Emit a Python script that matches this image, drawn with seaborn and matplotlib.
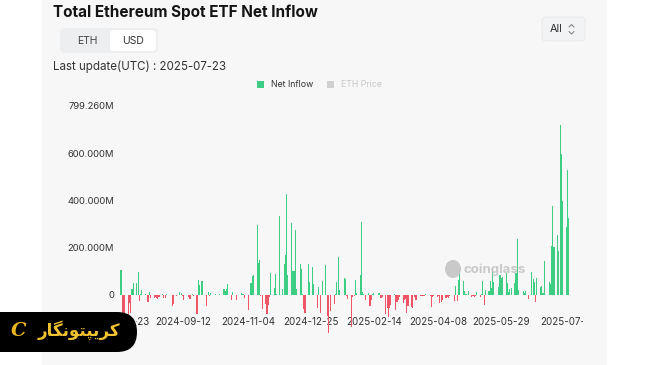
import numpy as np
import pandas as pd
import matplotlib
matplotlib.use("Agg")
import matplotlib.pyplot as plt
import seaborn as sns
from matplotlib.patches import FancyBboxPatch, Rectangle, Ellipse
from matplotlib.transforms import Bbox, TransformedBbox

# ---------------- data ----------------
START = "2024-07-23"
END = "2025-07-23"
HOLIDAYS = ["2024-09-02", "2024-11-28", "2024-12-25", "2025-01-01", "2025-01-09",
            "2025-01-20", "2025-02-17", "2025-04-18", "2025-05-26", "2025-06-19",
            "2025-07-04"]

# daily net inflow, million USD, one value per US trading day
jul24 = [106.6, -113.3, -152.3, -162.7, -98.3, -33.7, -77.2]
aug24 = [26.7, 48.8, 48.7, 98.4, -23.7, 2.7, 20.1, 4.9, -0.6, -28.2, 10.8, -14.0,
         -13.5, -6.5, -12.0, -16.0, -10.0, 2.8, -14.0, -12.0, 5.8, -1.8]
sep24 = [-47.4, -37.5, -0.2, -6.2, 11.4, 8.0, -5.0, -20.1, 1.5, -9.8, -15.1, -15.1,
         5.2, -5.0, -79.3, 62.5, 43.2, 0.0, 58.7, 0.5]
oct24 = [-48.6, 14.5, -3.2, 7.4, 0.0, 3.0, -0.5, -1.0, 2.3, -2.0, 24.2, 18.0, 25.0,
         48.0, -21.0, 11.9, -1.1, -2.0, -19.2, 0.0, 7.7, 4.4, 3.0]
nov24 = [-10.9, -63.2, -0.5, 52.3, 79.7, 85.9, 295.5, 135.9, 146.9, -3.2, -59.8,
         -39.1, -81.3, -42.0, -8.0, 91.3, 30.0, 90.1, 5.0, 332.9]
dec24 = [24.2, 132.6, 167.7, 428.4, 83.8, 305.7, 102.5, 102.1, 273.7, 23.7, 130.0,
         110.0, 2.4, -60.5, -75.1, 130.8, 53.6, 117.2, 47.8, -55.4, 35.9]
jan25 = [-77.0, 58.9, 128.7, -86.8, -159.3, -68.0, -39.4, 3.0, 55.0, 160.0, 20.0,
         70.0, 68.0, -5.0, -18.0, -136.2, -10.0, -5.0, 63.0, 10.0]
feb25 = [83.5, 307.8, 12.0, 5.0, -21.5, 7.0, -47.0, -22.0, 5.0, 8.0, 10.0, 8.0,
         -12.0, -8.9, -80.0, -56.0, -94.3, -56.0, -42.0]
mar25 = [4.0, -63.0, -28.0, -21.0, -10.0, -35.0, -21.0, -15.0, -75.0, -47.0, -50.0,
         -56.0, -10.0, -21.0, -21.0, -4.0, -3.0, -3.0, -5.0, 3.0, 2.0]
apr25 = [-5.0, -50.0, -10.0, -3.0, -8.0, -4.0, -35.0, -28.0, -21.0, -14.0, -10.0,
         -12.0, -3.0, -25.4, 38.8, -23.8, 63.5, 104.1, 61.0, 18.0, 6.0]
may25 = [3.0, 17.0, -8.0, -6.0, -8.0, -5.0, 13.0, -10.0, 5.0, 61.0, -42.0, 21.0,
         17.0, 61.0, 31.0, 109.0, 55.0, 35.0, 85.0, 70.0, 78.0]
jun25 = [92.0, 49.0, 14.0, 24.0, 30.0, 49.0, 94.0, 235.0, 21.0, -2.0, 18.0, 10.0,
         17.0, -15.0, 96.0, 66.0, 56.0, -28.0, 73.0, 35.0]
jul25 = [38.0, 10.0, 144.0, 56.0, 46.0, 207.0, 378.0, 202.0, 254.0, 188.0, 720.0,
         596.0, 399.0, 289.0, 529.0, 324.0]

TICK_DATES = ["2024-07-23", "2024-09-12", "2024-11-04", "2024-12-25",
              "2025-02-14", "2025-04-08", "2025-05-29", "2025-07-23"]
Y_TICKS = [0, 200, 400, 600, 799.26]
Y_LABELS = ["0", "200.000M", "400.000M", "600.000M", "799.260M"]

values = np.concatenate([jul24, aug24, sep24, oct24, nov24, dec24, jan25, feb25,
                         mar25, apr25, may25, jun25, jul25])
dates = pd.bdate_range(START, END, freq="C", holidays=HOLIDAYS)
assert len(dates) == len(values), (len(dates), len(values))
df = pd.DataFrame({"date": dates, "value": values})
df["day"] = (df["date"] - pd.Timestamp(START)).dt.days
df["sign"] = np.where(df["value"] >= 0, "in", "out")

GREEN = "#3dce84"
RED = "#ee5566"

# ---------------- figure ----------------
sns.set_theme(style="white")
plt.rcParams["font.family"] = ["Inter", "DejaVu Sans"]

W, H = 650, 365
fig = plt.figure(figsize=(6.5, 3.65), dpi=100)
fig.patch.set_facecolor("white")
fig.add_artist(Rectangle((42 / W, 0), (607 - 42) / W, 1, transform=fig.transFigure,
                         facecolor="#f7f7f7", edgecolor="none", zorder=-5))

# main axes: day 0 at x=121px, 0 at y=295px, 799.26 at y=106px
px_per_day = 1.2266
left_px = 121 - 3 * px_per_day
right_px = 121 + 368 * px_per_day
mpp = 799.26 / (295 - 106)
bottom_px = 340
ax = fig.add_axes([left_px / W, (H - bottom_px) / H, (right_px - left_px) / W,
                   (bottom_px - 106) / H], zorder=1)
ax.patch.set_alpha(0)

sns.barplot(data=df, x="day", y="value", hue="sign", palette={"in": GREEN, "out": RED},
            native_scale=True, dodge=False, width=0.9, errorbar=None, legend=False,
            saturation=1, linewidth=0, ax=ax)

ax.set_xlim(-3, 368)
ax.set_ylim(-(bottom_px - 295) * mpp, 799.26)
for s in ax.spines.values():
    s.set_visible(False)
ax.set_xlabel("")
ax.set_ylabel("")
ax.set_yticks(Y_TICKS, Y_LABELS)
tick_days = [(pd.Timestamp(d) - pd.Timestamp(START)).days for d in TICK_DATES]
ax.set_xticks(tick_days, TICK_DATES)
ax.tick_params(axis="y", length=0, pad=2.4, labelsize=6.8, labelcolor="#333333")
ax.tick_params(axis="x", length=0, pad=-16.5, labelsize=7, labelcolor="#333333")
ax.grid(False)
clip = TransformedBbox(Bbox([[136 / W, 0], [583 / W, 1]]), fig.transFigure)
for lbl in ax.get_xticklabels():
    lbl.set_clip_on(True)
    lbl.set_clip_box(clip)

# overlay in pixel coordinates
ov = fig.add_axes([0, 0, 1, 1], zorder=3)
ov.set_xlim(0, W)
ov.set_ylim(H, 0)
ov.axis("off")
ov.patch.set_alpha(0)

ov.text(53, 12, "Total Ethereum Spot ETF Net Inflow", fontsize=11, fontweight="bold",
        ha="left", va="center", color="#141414")

ov.add_patch(FancyBboxPatch((60, 28), 98, 25, boxstyle="round,pad=0,rounding_size=5",
                            facecolor="#eceef0", edgecolor="none"))
ov.add_patch(FancyBboxPatch((110, 30), 46, 21, boxstyle="round,pad=0,rounding_size=4",
                            facecolor="white", edgecolor="none"))
ov.text(87, 41, "ETH", fontsize=7.5, ha="center", va="center", color="#444444")
ov.text(133, 41, "USD", fontsize=7.5, ha="center", va="center", color="#333333")

ov.text(53, 67, "Last update(UTC) : 2025-07-23", fontsize=8.3, ha="left", va="center",
        color="#333333")

ov.add_patch(Rectangle((257, 81), 7, 7, facecolor=GREEN, edgecolor="none"))
ov.text(271, 84.5, "Net Inflow", fontsize=6.3, ha="left", va="center", color="#333333")
ov.add_patch(Rectangle((327, 81), 7, 7, facecolor="#d0d0d0", edgecolor="none"))
ov.text(341, 84.5, "ETH Price", fontsize=6.3, ha="left", va="center", color="#c8c8c8")

ov.add_patch(FancyBboxPatch((542, 17), 43, 24, boxstyle="round,pad=0,rounding_size=4",
                            facecolor="#f2f3f5", edgecolor="#e4e4e4", linewidth=0.5))
ov.text(550, 29.5, "All", fontsize=7.8, ha="left", va="center", color="#333333")
ov.plot([569, 571.5, 574], [27, 24.5, 27], color="#888888", lw=0.8)
ov.plot([569, 571.5, 574], [31.5, 34, 31.5], color="#888888", lw=0.8)

# watermark
ov.add_patch(Ellipse((453, 269), 16, 18, facecolor="#c4c4c4", edgecolor="none", alpha=0.9))
ov.text(464, 270, "coinglass", fontsize=9.5, fontweight="bold", ha="left", va="center",
        color="#c4c4c4", alpha=0.9)

# bottom-left badge
ov.add_patch(FancyBboxPatch((-30, 312), 167, 40, boxstyle="round,pad=0,rounding_size=20",
                            facecolor="black", edgecolor="none"))
persian = "\uFEAD\uFE8E\uFB95\uFEE7\uFEEE\uFE98\uFB59\uFBFE\uFEAE\uFB90"
ov.text(79, 330, persian, fontsize=12, fontweight="bold", ha="center", va="center",
        color="#f2c230", family=["DejaVu Sans"])
ov.text(19, 331, "C", fontsize=14, fontweight="bold", style="italic", ha="center",
        va="center", color="#e8b420", family=["DejaVu Serif"])

fig.savefig("out.png", dpi=100)
